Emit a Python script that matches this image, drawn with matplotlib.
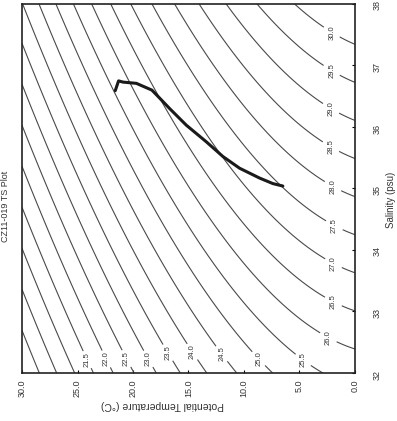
import numpy as np
import matplotlib
matplotlib.use("Agg")
import matplotlib.pyplot as plt

plt.rcParams['font.family'] = ['Liberation Sans', 'DejaVu Sans']

# data: T-S profile (potential temperature, salinity)
profile_temp = [21.6, 21.3, 20.9, 19.7, 18.3, 17.6, 16.7, 15.2, 13.4, 11.9, 10.4, 8.6, 7.4, 6.5]
profile_sal = [36.59, 36.75, 36.73, 36.71, 36.60, 36.47, 36.30, 36.03, 35.76, 35.52, 35.33, 35.17, 35.08, 35.04]

# sigma-theta contour levels without labels
plain_levels = [19.5, 20.0, 20.5, 21.0]

# labelled contour levels and where each label sits (temp, salinity)
label_levels = [21.5, 22.0, 22.5, 23.0, 23.5, 24.0, 24.5, 25.0, 25.5,
                26.0, 26.5, 27.0, 27.5, 28.0, 28.5, 29.0, 29.5, 30.0]
label_temp = [23.27, 21.71, 20.0, 18.32, 16.87, 14.71, 11.89, 8.11, 4.35,
              2.43, 2.1, 2.07, 2.07, 2.07, 2.07, 2.07, 2.07, 2.07]
label_sal = [32.29, 32.29, 32.29, 32.26, 32.33, 32.34, 32.33, 32.33, 32.29,
             32.57, 33.11, 33.74, 34.33, 35.01, 35.71, 36.33, 36.93, 37.55]

temp_ticks = [0, 5, 10, 15, 20, 25, 30]
sal_ticks = [32, 33, 34, 35, 36, 37, 38]


def sigma_theta(S, T):
    # UNESCO 1983 density at p = 0
    rho_w = (999.842594 + 6.793952e-2 * T - 9.095290e-3 * T**2 + 1.001685e-4 * T**3
             - 1.120083e-6 * T**4 + 6.536332e-9 * T**5)
    A = 8.24493e-1 - 4.0899e-3 * T + 7.6438e-5 * T**2 - 8.2467e-7 * T**3 + 5.3875e-9 * T**4
    B = -5.72466e-3 + 1.0227e-4 * T - 1.6546e-6 * T**2
    C = 4.8314e-4
    return rho_w + A * S + B * S**1.5 + C * S**2 - 1000.0


tt, ss = np.meshgrid(np.linspace(0, 30, 301), np.linspace(32, 38, 301))
sig = sigma_theta(ss, tt)

fig = plt.figure(figsize=(3.97, 4.21), dpi=100)
ax = fig.add_axes([22 / 397, 48 / 421, 333 / 397, 369 / 421])
ax.set_xlim(30, 0)
ax.set_ylim(32, 38)

# the chart is shown rotated: temperature runs along x (reversed), salinity along y
line_kw = dict(colors='#4a4a4a', linewidths=0.8)
ax.contour(tt, ss, sig, levels=plain_levels, **line_kw)
for lev, t, s in zip(label_levels, label_temp, label_sal):
    cs = ax.contour(tt, ss, sig, levels=[lev], **line_kw)
    cs.clabel(manual=[(t, s)], inline=True, inline_spacing=2,
              fontsize=5.5, fmt='%.1f', colors='#333333')
    for txt in cs.labelTexts:
        txt.set_rotation(90)

ax.plot(profile_temp, profile_sal, color='#1a1a1a', linewidth=2.2, solid_capstyle='round')

ax.set_xticks(temp_ticks)
ax.set_xticklabels(['%.1f' % v for v in temp_ticks], rotation=90, fontsize=6.5, color='#333333')
ax.set_yticks(sal_ticks)
ax.set_yticklabels([str(v) for v in sal_ticks], rotation=90, fontsize=6.5, color='#333333')
ax.yaxis.tick_right()
ax.tick_params(axis='x', direction='in', length=2, pad=5)
ax.tick_params(axis='y', direction='in', length=2, pad=13)
for sp in ax.spines.values():
    sp.set_linewidth(1.2)
    sp.set_color('#222222')

fig.text(162 / 397, 1 - 405 / 421, 'Potential Temperature (°C)', rotation=180,
         ha='center', va='center', fontsize=7.5, color='#333333')
fig.text(391 / 397, 1 - 200 / 421, 'Salinity (psu)', rotation=90,
         ha='center', va='center', fontsize=7, color='#333333')
fig.text(6 / 397, 1 - 206 / 421, 'CZ11-019 TS Plot', rotation=90,
         ha='center', va='center', fontsize=6.5, color='#333333')

fig.savefig('out.png', dpi=100)
